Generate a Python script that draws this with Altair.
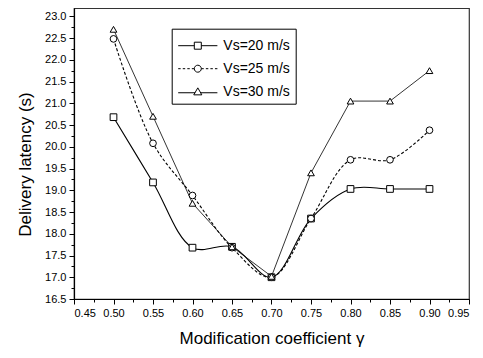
import altair as alt
import pandas as pd

gamma = [0.50, 0.55, 0.60, 0.65, 0.70, 0.75, 0.80, 0.85, 0.90]
vs20 = [20.68, 19.18, 17.68, 17.70, 17.00, 18.35, 19.03, 19.03, 19.03]
vs25 = [22.48, 20.08, 18.88, 17.68, 17.00, 18.35, 19.70, 19.70, 20.38]
vs30 = [22.70, 20.70, 18.70, 17.70, 17.02, 19.40, 21.05, 21.05, 21.75]
series = ["Vs=20 m/s", "Vs=25 m/s", "Vs=30 m/s"]
markers = ["square", "circle", "triangle-up"]
x_ticks = [0.45 + 0.025 * i for i in range(21)]
y_ticks = [16.5 + 0.25 * i for i in range(27)]

rows = []
for i, (name, vals) in enumerate(zip(series, [vs20, vs25, vs30])):
    for g, v in zip(gamma, vals):
        rows.append({"gamma": g, "latency": v, "series": name, "marker": markers[i], "order": i})
df = pd.DataFrame(rows)

FONT = "Liberation Sans"

xenc = alt.X("gamma:Q", scale=alt.Scale(domain=[0.45, 0.95], nice=False, zero=False),
             axis=alt.Axis(values=x_ticks, title="Modification coefficient  γ",
                           labelExpr="round(datum.value*40)%2==1 ? '' : format(datum.value, '.2f')",
                           tickSize={"condition": {"test": "round(datum.value*40)%2==1", "value": 3}, "value": 5},
                           labelPadding=3, titlePadding=12, grid=False))
yenc = alt.Y("latency:Q", scale=alt.Scale(domain=[16.5, 23.19], nice=False, zero=False),
             axis=alt.Axis(values=y_ticks, title="Delivery latency (s)",
                           labelExpr="round(datum.value*4)%2==1 ? '' : format(datum.value, '.1f')",
                           tickSize={"condition": {"test": "round(datum.value*4)%2==1", "value": 3}, "value": 5},
                           labelPadding=3, titlePadding=10, titleY=156, grid=False))

p_sq = "M-5.6,0H-1M1,0H5.6M-1,-1H1V1H-1Z"
p_ci = ("M-5.6,0H-4.9M-4.3,0H-3.6M-3.0,0H-2.3M-1.7,0H-1.0"
        "M1.0,0H1.7M2.3,0H3.0M3.6,0H4.3M4.9,0H5.6"
        "M-1,0A1,1 0 1,0 1,0A1,1 0 1,0 -1,0Z")
p_tr = "M-5.6,0.3H-0.75M0.75,0.3H5.6M0,-1.1L1.15,0.9H-1.15Z"
shape_sig = ("datum.value == '%s' ? '%s' : (datum.value == '%s' ? '%s' : '%s')"
             % (series[0], p_sq, series[1], p_ci, p_tr))

cenc = alt.Color("series:N", sort=series,
                 scale=alt.Scale(domain=series, range=["black", "black", "black"]),
                 legend=alt.Legend(title=" ", titleFontSize=5, titlePadding=0,
                                   orient="none", legendX=97.7, legendY=20.7,
                                   labelFont=FONT, labelFontSize=14, labelColor="black",
                                   symbolSize=49, symbolOffset=14.1, labelOffset=18.5,
                                   symbolType=alt.ExprRef(shape_sig),
                                   symbolFillColor="white", symbolStrokeColor="black",
                                   symbolStrokeWidth=1, rowPadding=9, padding=5,
                                   strokeColor="black", fillColor="white"))

base = alt.Chart(df)

l20 = base.transform_filter(alt.datum.series == series[0]).mark_line(
    interpolate="catmull-rom", strokeWidth=1.1).encode(x=xenc, y=yenc, color=cenc)
l25 = base.transform_filter(alt.datum.series == series[1]).mark_line(
    interpolate="catmull-rom", strokeWidth=1.1, strokeDash=[3, 2]).encode(x=xenc, y=yenc, color=cenc)
l30 = base.transform_filter(alt.datum.series == series[2]).mark_line(
    interpolate="linear", strokeWidth=0.8).encode(x=xenc, y=yenc, color=cenc)

pts = base.mark_point(filled=False, fill="white", fillOpacity=1, stroke="black",
                      strokeWidth=1, size=45, opacity=1).encode(
    x=xenc, y=yenc,
    shape=alt.Shape("marker:N", scale=None, legend=None),
    order=alt.Order("order:Q"),
)

chart = alt.layer(l20, l25, l30, pts).properties(
    width=395, height=291,
    autosize=alt.AutoSizeParams(type="none"),
    padding={"left": 66, "top": 0, "right": 6, "bottom": 51},
    background="white",
).configure_view(stroke="#333", strokeWidth=1.2).configure_axis(
    labelFont=FONT, labelFontSize=11, labelColor="black",
    titleFont=FONT, titleFontSize=17, titleFontWeight="normal", titleColor="black",
    domainColor="black", tickColor="black", domainWidth=1.2, tickWidth=1,
)

chart.save("out.html", embed_options={"renderer": "svg", "actions": False})
